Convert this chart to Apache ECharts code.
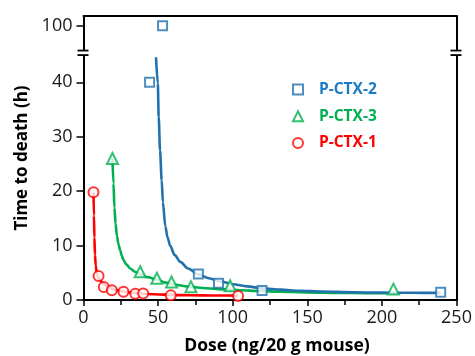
<!DOCTYPE html>
<html>
<head>
<meta charset="utf-8">
<script src="https://cdn.jsdelivr.net/npm/echarts@6/dist/echarts.min.js"></script>
<style>
html,body{margin:0;padding:0;background:#fff;}
#chart{width:475px;height:356px;}
</style>
</head>
<body>
<div id="chart"></div>
<script>
// ---- data ----
var xTicks = [0, 50, 100, 150, 200, 250];
var yTickLabels = [0, 10, 20, 30, 40, 100];

var ctx2X = [44.3, 53.0, 77.0, 90.5, 119.7, 239.4];
var ctx2Y = [40.0, 100.0, 4.8, 3.06, 1.75, 1.41];

var ctx3X = [19.4, 38.0, 49.2, 59.0, 72.0, 98.3, 207.7];
var ctx3Y = [26.0, 5.2, 4.0, 3.3, 2.45, 2.6, 2.0];

var ctx1X = [6.7, 10.1, 13.6, 19.0, 26.8, 34.7, 40.0, 58.5, 103.6];
var ctx1Y = [19.8, 4.4, 2.4, 1.8, 1.5, 1.15, 1.2, 0.85, 0.75];

// fitted curves
var fit2X = [48.6, 49.8, 50.4, 51.3, 52.4, 53.2, 54.8, 56.3, 58.2, 61.0, 64.9, 70.0, 77.1, 84.0, 91.8, 100.0, 109.6, 120.0, 132, 145, 160, 180, 200, 220, 239.4];
var fit2Y = [44.6, 39.8, 33.6, 27.5, 22.0, 18.0, 13.6, 11.5, 9.9, 8.3, 7.0, 5.8, 4.7, 4.0, 3.4, 2.9, 2.5, 2.15, 1.9, 1.7, 1.55, 1.42, 1.35, 1.32, 1.3];

var fit3X = [19.4, 20.1, 20.7, 21.5, 22.4, 23.4, 24.6, 25.6, 26.7, 28.8, 31.3, 34.5, 38.0, 43.0, 49.1, 55.0, 60.3, 70.0, 82.7, 95.0, 105, 118, 132, 150, 170, 190, 211];
var fit3Y = [26.0, 21.4, 17.0, 14.0, 11.8, 10.3, 9.1, 8.2, 7.4, 6.5, 5.8, 5.2, 4.7, 4.2, 3.75, 3.2, 2.85, 2.45, 2.15, 1.95, 1.8, 1.65, 1.52, 1.4, 1.3, 1.25, 1.2];

var fit1X = [6.7, 7.0, 7.3, 7.7, 8.2, 8.9, 9.9, 11.2, 12.8, 14.6, 17.0, 20, 24, 28, 34, 40, 47, 55, 65, 80, 92, 103.6];
var fit1Y = [19.8, 15.5, 11.5, 8.3, 6.3, 5.0, 4.2, 3.6, 3.1, 2.7, 2.3, 2.0, 1.7, 1.5, 1.3, 1.15, 1.05, 0.98, 0.9, 0.85, 0.82, 0.8];

var names = ['P-CTX-2', 'P-CTX-3', 'P-CTX-1'];
var markerColors = ['#2271ad', '#00b050', '#ff0000'];
var textColors = ['#1a7cc4', '#00b050', '#ff0000'];
var symbols = ['emptyRect', 'emptyTriangle', 'emptyCircle'];
var symbolSizes = [9, 11, 10];

function pairs(xs, ys){ return xs.map(function(x,i){ return [x, ys[i]]; }); }

var FONT = '"Open Sans", "DejaVu Sans", sans-serif';
var BREAK_LO = 45, BREAK_HI = 95.45;

var chart = echarts.init(document.getElementById('chart'), null, {renderer:'canvas'});

var yBase = {
  type: 'value',
  min: 0,
  max: 101.8,
  breaks: [{start: BREAK_LO, end: BREAK_HI, gap: 0.83}],
  breakArea: {show: false},
  splitLine: {show: false}
};

var option = {
  animation: false,
  backgroundColor: '#fff',
  grid: {left: 83.5, right: 18.5, top: 16, bottom: 56, containLabel: false, outerBoundsMode: 'none'},
  legend: {
    orient: 'vertical',
    left: 287,
    top: 76.5,
    itemWidth: 10,
    itemHeight: 10,
    itemGap: 10.7,
    symbolKeepAspect: true,
    textStyle: {fontFamily: FONT, fontSize: 15.5, fontWeight: 'bold', padding: [0, 0, 0, 11]},
    data: names.map(function(n, i){ return {name: n, textStyle: {color: textColors[i]}}; })
  },
  xAxis: [{
    type: 'value',
    min: 0, max: 250, interval: 50,
    position: 'bottom',
    axisLine: {show: true, onZero: false, lineStyle: {color: '#000', width: 2}},
    axisTick: {show: true, inside: false, length: 6, lineStyle: {color: '#000', width: 1.5}},
    minorTick: {show: true, splitNumber: 2, length: 5, lineStyle: {color: '#000', width: 1.5}},
    splitLine: {show: false},
    axisLabel: {fontFamily: FONT, fontSize: 18, color: '#1a1a1a', margin: 9,
      customValues: xTicks},
    name: 'Dose (ng/20 g mouse)',
    nameLocation: 'middle',
    nameGap: 37,
    nameTextStyle: {fontFamily: FONT, fontSize: 17.5, fontWeight: 'bold', color: '#000', padding: [0, 0, 0, 14]}
  }, {
    type: 'value',
    min: 0, max: 250,
    position: 'top',
    axisLine: {show: true, onZero: false, lineStyle: {color: '#000', width: 2}},
    axisTick: {show: false},
    axisLabel: {show: false},
    splitLine: {show: false}
  }],
  yAxis: [Object.assign({}, yBase, {
    position: 'left',
    axisLine: {show: true, onZero: false, lineStyle: {color: '#000', width: 2}},
    axisTick: {show: true, length: 7, lineStyle: {color: '#000', width: 1.5}, customValues: yTickLabels},
    axisLabel: {fontFamily: FONT, fontSize: 18, color: '#1a1a1a', margin: 11, customValues: yTickLabels},
    name: 'Time to death (h)',
    nameLocation: 'middle',
    nameGap: 41,
    nameRotate: 90,
    nameTextStyle: {fontFamily: FONT, fontSize: 17, fontWeight: 'bold', color: '#000'}
  }), Object.assign({}, yBase, {
    position: 'right',
    axisLine: {show: true, onZero: false, lineStyle: {color: '#000', width: 2}},
    axisTick: {show: false},
    axisLabel: {show: false}
  })],
  series: [
    {name: 'fit-3', type: 'line', data: pairs(fit3X, fit3Y), showSymbol: false, smooth: 0.3, smoothMonotone: 'x',
     lineStyle: {color: markerColors[1], width: 2.6}, z: 2, silent: true},
    {name: 'fit-2', type: 'line', data: pairs(fit2X, fit2Y), showSymbol: false, smooth: 0.3, smoothMonotone: 'x',
     lineStyle: {color: markerColors[0], width: 2.6}, z: 3, silent: true},
    {name: 'fit-1', type: 'line', data: pairs(fit1X, fit1Y), showSymbol: false, smooth: 0.3, smoothMonotone: 'x',
     lineStyle: {color: markerColors[2], width: 2.6}, z: 3, silent: true}
  ].concat([[ctx2X, ctx2Y], [ctx3X, ctx3Y], [ctx1X, ctx1Y]].map(function(d, i){
    return {
      name: names[i], type: 'scatter', data: pairs(d[0], d[1]),
      symbol: symbols[i], symbolSize: symbolSizes[i],
      itemStyle: {color: markerColors[i], borderColor: markerColors[i], borderWidth: 2},
      z: 5
    };
  }))
};

chart.setOption(option);

// break marks ("=") on the left and right axes
var yLo = chart.convertToPixel({yAxisIndex: 0}, BREAK_LO);
var yHi = chart.convertToPixel({yAxisIndex: 0}, BREAK_HI);
var xL = chart.convertToPixel({xAxisIndex: 0}, 0);
var xR = chart.convertToPixel({xAxisIndex: 0}, 250);
function breakMark(x){
  return [
    {type: 'rect', shape: {x: x - 3, y: yHi, width: 6, height: yLo - yHi}, style: {fill: '#fff'}, z: 100},
    {type: 'line', shape: {x1: x - 6, y1: yHi, x2: x + 5, y2: yHi}, style: {stroke: '#000', lineWidth: 1.8}, z: 101},
    {type: 'line', shape: {x1: x - 6, y1: yLo, x2: x + 5, y2: yLo}, style: {stroke: '#000', lineWidth: 1.8}, z: 101}
  ];
}
chart.setOption({graphic: breakMark(xL).concat(breakMark(xR))});
</script>
</body>
</html>
